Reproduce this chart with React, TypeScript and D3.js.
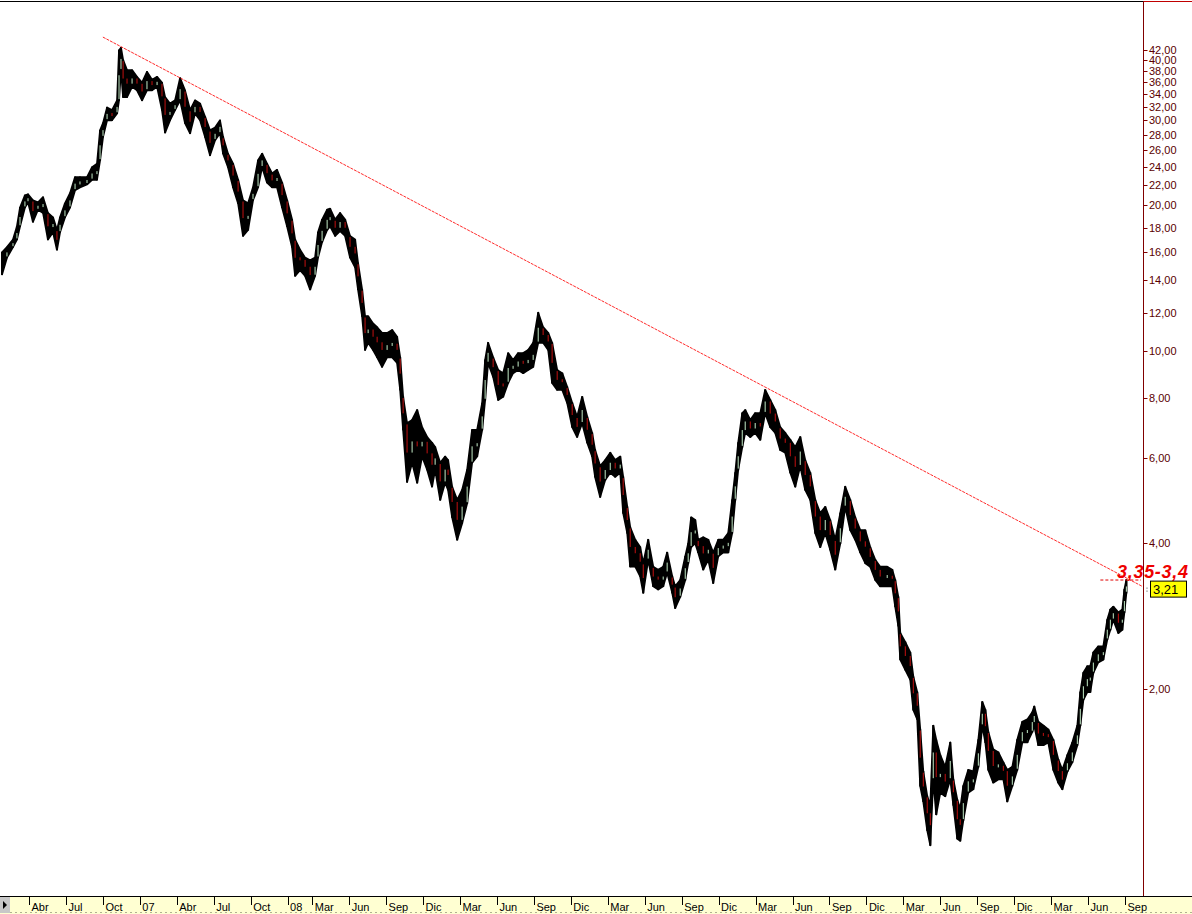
import React from 'react';
import * as d3 from 'd3';

// months elapsed since 1 Jan 2006 for each sampled bar
const monthIdx = [0.81,1.21,1.70,2.02,2.27,2.67,2.92,3.32,3.73,4.14,4.54,4.95,5.27,5.52,5.92,6.33,6.74,7.14,7.71,8.12,8.52,8.77,9.01,9.34,9.74,10.15,10.31,10.47,10.64,10.96,11.37,11.77,12.18,12.58,12.99,13.40,13.80,14.05,14.45,14.86,15.27,15.67,16.08,16.48,16.89,17.30,17.70,18.11,18.51,18.76,19.16,19.57,19.98,20.38,20.79,21.19,21.60,21.93,22.33,22.74,23.14,23.55,23.96,24.36,24.61,25.01,25.42,25.83,26.23,26.47,26.80,27.21,27.45,27.86,28.26,28.67,29.07,29.48,29.72,30.05,30.29,30.54,30.94,31.27,31.67,32.08,32.49,32.89,33.14,33.38,33.70,34.11,34.52,34.92,35.33,35.73,35.98,36.39,36.79,37.03,37.36,37.77,38.17,38.58,38.98,39.39,39.80,40.04,40.28,40.69,41.10,41.50,41.91,42.31,42.72,43.13,43.53,43.94,44.35,44.75,45.16,45.48,45.89,46.30,46.70,47.11,47.51,47.92,48.33,48.73,48.97,49.38,49.79,50.20,50.60,51.01,51.25,51.58,51.82,52.23,52.63,52.88,53.28,53.69,54.09,54.50,54.82,55.23,55.47,55.88,56.29,56.53,56.77,57.10,57.34,57.75,58.16,58.56,58.97,59.37,59.78,60.10,60.35,60.59,60.92,61.16,61.57,61.97,62.38,62.78,63.19,63.60,64.00,64.41,64.82,65.22,65.63,66.03,66.44,66.85,67.25,67.66,68.06,68.47,68.88,69.28,69.69,70.09,70.50,70.91,71.31,71.72,72.12,72.69,73.10,73.34,73.59,73.75,74.16,74.56,74.81,75.13,75.37,75.62,75.94,76.19,76.43,76.67,77.00,77.40,77.81,78.06,78.38,78.62,78.87,79.27,79.68,80.09,80.41,80.66,80.90,81.30,81.71,82.12,82.44,82.85,83.25,83.66,84.07,84.47,84.63,84.96,85.37,85.77,86.18,86.58,86.91,87.32,87.72,88.13,88.37,88.62,88.94,89.18,89.43,89.83,90.24,90.56,90.81,91.05,91.46,91.78,91.95,92.11];

const highs = [16.0,16.4,17.0,18.1,19.8,21.0,21.1,20.5,20.3,20.8,19.3,18.9,17.8,18.9,20.2,21.2,22.9,22.9,22.9,24.0,24.4,28.6,29.6,31.9,31.5,33.0,41.9,42.4,40.0,38.1,38.1,36.9,35.9,37.8,36.4,36.9,35.9,33.5,32.5,33.0,36.7,34.6,31.5,33.0,32.5,30.5,28.6,29.0,30.0,27.7,25.6,24.4,22.6,20.5,20.2,21.8,24.8,25.6,24.4,23.3,23.7,22.3,20.5,18.7,17.0,16.2,15.6,15.4,15.6,17.6,18.7,19.6,19.7,18.7,19.3,18.7,17.3,17.0,15.2,13.4,11.8,11.8,11.4,11.2,10.9,10.9,11.05,10.7,9.7,8.04,7.09,7.20,7.55,6.96,6.64,6.46,6.33,5.87,6.05,5.95,5.24,4.92,5.16,5.68,6.87,6.87,7.81,9.58,10.4,9.7,9.14,9.0,9.9,9.58,9.9,9.9,10.05,10.4,12.0,11.2,10.9,10.4,9.14,9.0,8.43,7.81,7.31,8.04,7.31,6.77,6.24,5.78,5.95,6.16,5.95,6.05,5.49,4.76,4.32,4.07,3.93,3.64,4.07,3.58,3.53,3.58,3.83,3.42,3.26,3.36,3.76,4.00,4.53,4.47,4.07,4.12,4.07,3.83,4.07,4.07,4.20,4.92,5.60,6.46,7.44,7.55,7.20,7.44,7.44,8.31,7.92,7.55,6.96,6.77,6.55,6.33,6.64,5.95,5.60,4.92,4.62,4.76,4.47,4.07,4.62,5.24,4.92,4.53,4.26,4.26,3.93,3.70,3.58,3.58,3.53,3.36,3.10,2.61,2.50,2.38,2.12,1.97,1.65,1.35,1.20,1.15,1.68,1.57,1.46,1.38,1.55,1.30,1.18,1.13,1.26,1.36,1.35,1.57,1.88,1.81,1.63,1.50,1.48,1.41,1.36,1.38,1.57,1.71,1.73,1.79,1.84,1.71,1.68,1.65,1.57,1.43,1.36,1.46,1.55,1.68,1.97,2.16,2.23,2.23,2.38,2.45,2.45,2.78,2.92,2.96,2.88,2.92,3.21,3.36];

const lows = [14.4,15.6,16.4,17.0,18.1,19.8,20.3,18.5,19.6,19.3,17.0,17.6,16.2,17.6,18.9,19.8,21.5,21.8,22.1,22.6,22.6,24.8,27.7,30.0,30.0,31.0,33.0,38.1,33.5,33.5,35.2,34.6,33.0,34.6,34.6,35.2,31.5,28.3,30.0,31.5,33.0,29.6,28.2,31.0,30.0,27.7,25.4,27.3,28.2,25.6,24.0,21.8,20.2,17.3,17.8,20.5,21.8,24.0,22.3,21.8,21.8,19.8,18.1,16.4,14.3,14.7,14.3,13.4,14.3,15.6,16.8,17.8,18.1,17.3,17.7,17.3,15.6,14.9,13.4,11.8,10.05,10.4,10.05,9.7,9.27,9.7,9.7,9.45,8.31,6.87,5.36,5.87,5.34,6.05,5.68,5.24,5.68,4.92,5.34,5.16,4.53,4.07,4.40,4.84,5.87,6.05,6.87,7.92,9.45,8.84,7.92,8.04,8.59,9.0,9.14,9.0,9.14,9.27,10.4,10.4,10.05,8.59,8.31,8.31,7.81,6.96,6.64,7.09,6.46,6.05,5.49,4.99,5.41,5.60,5.49,5.60,4.62,4.20,3.58,3.58,3.42,3.16,3.70,3.26,3.21,3.26,3.48,3.16,2.94,3.10,3.36,3.64,3.93,4.00,3.83,3.53,3.70,3.31,3.76,3.83,3.83,4.20,4.92,5.68,6.33,6.77,6.64,6.77,6.55,7.44,6.96,6.77,6.24,6.16,5.60,5.24,5.78,5.16,4.92,4.20,3.93,4.20,3.88,3.53,4.00,4.76,4.26,4.07,3.83,3.64,3.58,3.36,3.26,3.26,3.26,2.96,2.70,2.30,2.19,2.09,1.81,1.73,1.26,1.17,1.02,0.95,1.30,1.10,1.22,1.20,1.30,1.15,0.98,0.97,1.07,1.22,1.24,1.38,1.68,1.55,1.36,1.28,1.30,1.30,1.17,1.26,1.36,1.55,1.55,1.63,1.68,1.53,1.53,1.55,1.36,1.28,1.24,1.35,1.41,1.53,1.68,1.90,1.97,1.97,2.16,2.27,2.30,2.53,2.65,2.78,2.61,2.65,2.88,3.16];

// x-axis ticks (months since Jan 2006) and labels
const xTickMonths = [3,6,9,12,15,18,21,24,26,29,32,35,38,41,44,47,50,53,56,59,62,65,68,71,74,77,80,83,86,89,92];
const xTickLabels = ['Abr','Jul','Oct','07','Abr','Jul','Oct','08','Mar','Jun','Sep','Dic','Mar','Jun','Sep','Dic','Mar','Jun','Sep','Dic','Mar','Jun','Sep','Dic','Mar','Jun','Sep','Dic','Mar','Jun','Sep'];

// right price axis ticks
const yTickValues = [2,4,6,8,10,12,14,16,18,20,22,24,26,28,30,32,34,36,38,40,42];

// annotations
const trendMonths = [9.0, 93.4];
const trendValues = [44.6, 3.26];
const zoneMonths = [90.0, 93.3];
const zoneValue = 3.36;
const zoneLabel = '3,35-3,4';
const lastPrice = 3.21;

const W = 1192;
const H = 914;
const AXIS_X = 1143.5;

const fmt = (v: number) => d3.format('.2f')(v).replace('.', ',');

export default function App() {
  const x = d3.scaleLinear().domain([3, 92]).range([29, 1125]);
  const y = d3.scaleLog().domain([0.7568, 52.71]).range([893, 2]);

  const n = Math.min(monthIdx.length, highs.length, lows.length);
  const idx = d3.range(n);

  const area = d3
    .area<number>()
    .x((i) => x(monthIdx[i]))
    .y0((i) => y(lows[i]))
    .y1((i) => y(highs[i]));

  const mid = (i: number) => Math.sqrt(highs[i] * lows[i]);

  const bodies = idx.slice(1).map((i) => {
    const o = mid(i - 1);
    const c = mid(i);
    const top = y(highs[i]) + 1.2;
    const bot = y(lows[i]) - 1.2;
    let y1 = Math.max(top, Math.min(bot, y(Math.max(o, c))));
    let y2 = Math.max(top, Math.min(bot, y(Math.min(o, c))));
    if (y2 - y1 < 3) {
      const m = (y1 + y2) / 2;
      y1 = m - 1.5;
      y2 = m + 1.5;
    }
    return { i, x: x(monthIdx[i]), y1, y2, down: c < o };
  });

  const font = 'Liberation Sans, Arial, sans-serif';

  return (
    <svg
      width={W}
      height={H}
      style={{ position: 'absolute', left: 0, top: 0, background: '#ffffff' }}
    >
      <rect x={0} y={0} width={W} height={H} fill="#ffffff" />
      {/* top border */}
      <line x1={0} x2={AXIS_X} y1={1.5} y2={1.5} stroke="#000" strokeWidth={1} />
      <line x1={AXIS_X} x2={W} y1={1.5} y2={1.5} stroke="#c00000" strokeWidth={1} />

      {/* price band */}
      <path
        d={area(idx) || ''}
        fill="#000"
        stroke="#000"
        strokeWidth={1.8}
        strokeLinejoin="round"
      />
      {idx.map((i) => (
        <line
          key={'w' + i}
          x1={x(monthIdx[i])}
          x2={x(monthIdx[i])}
          y1={y(highs[i]) - 0.5}
          y2={y(lows[i]) + 0.5}
          stroke="#000"
          strokeWidth={2}
        />
      ))}
      {bodies.map((b) => (
        <line
          key={'b' + b.i}
          x1={b.x}
          x2={b.x}
          y1={b.y1}
          y2={b.y2}
          stroke={b.down ? '#c41010' : '#c4ecc8'}
          strokeWidth={1}
        />
      ))}

      {/* trend line */}
      <line
        x1={x(trendMonths[0])}
        y1={y(trendValues[0])}
        x2={x(trendMonths[1])}
        y2={y(trendValues[1])}
        stroke="#ff2a2a"
        strokeWidth={1}
        strokeDasharray="3,1"
      />
      {/* target zone */}
      <line
        x1={x(zoneMonths[0])}
        x2={x(zoneMonths[1])}
        y1={y(zoneValue)}
        y2={y(zoneValue)}
        stroke="#e00000"
        strokeWidth={1}
        strokeDasharray="3,2"
      />
      <text
        x={1117}
        y={y(zoneValue) - 2.5}
        fontFamily={font}
        fontSize={18}
        fontWeight="bold"
        fontStyle="italic"
        fill="#ee0000"
        textLength={71}
        lengthAdjust="spacing"
      >
        {zoneLabel}
      </text>

      {/* right axis */}
      <line x1={AXIS_X} x2={AXIS_X} y1={1} y2={896} stroke="#800000" strokeWidth={1} />
      {yTickValues.map((v) => (
        <g key={'yt' + v}>
          <line x1={AXIS_X} x2={AXIS_X + 4} y1={Math.round(y(v)) + 0.5} y2={Math.round(y(v)) + 0.5} stroke="#800000" />
          <text
            x={1149}
            y={y(v) + 4}
            fontFamily={font}
            fontSize={11}
            fill="#5a0000"
          >
            {fmt(v)}
          </text>
        </g>
      ))}

      {/* last price tag */}
      <rect x={1146.5} y={y(lastPrice) - 2} width={1} height={1} fill="#444" />
      <rect x={1146.5} y={y(lastPrice) + 1} width={1} height={1} fill="#444" />
      <rect
        x={1150.5}
        y={y(lastPrice) - 8.5}
        width={36}
        height={16}
        fill="#ffff00"
        stroke="#000"
        strokeWidth={1}
      />
      <text x={1153} y={y(lastPrice) + 4.5} fontFamily={font} fontSize={13} fill="#000">
        {fmt(lastPrice)}
      </text>

      {/* bottom time axis */}
      <rect x={0} y={896} width={W} height={18} fill="#ffffd2" />
      <line x1={0} x2={W} y1={896.5} y2={896.5} stroke="#000" strokeWidth={1} />
      <line x1={10} x2={W} y1={912.5} y2={912.5} stroke="#b0b090" strokeWidth={1} strokeDasharray="2,3" />
      <rect x={0} y={897} width={10} height={16} fill="#c8c8c8" />
      <path d="M3,901 L7,905 L3,909 Z" fill="#000" />
      {xTickMonths.map((m, k) => (
        <g key={'xt' + k}>
          <line
            x1={Math.round(x(m)) + 0.5}
            x2={Math.round(x(m)) + 0.5}
            y1={897}
            y2={905}
            stroke="#000"
            strokeWidth={1}
          />
          <text x={x(m) + 2.5} y={910.5} fontFamily={font} fontSize={11} fill="#000">
            {xTickLabels[k]}
          </text>
        </g>
      ))}
    </svg>
  );
}
